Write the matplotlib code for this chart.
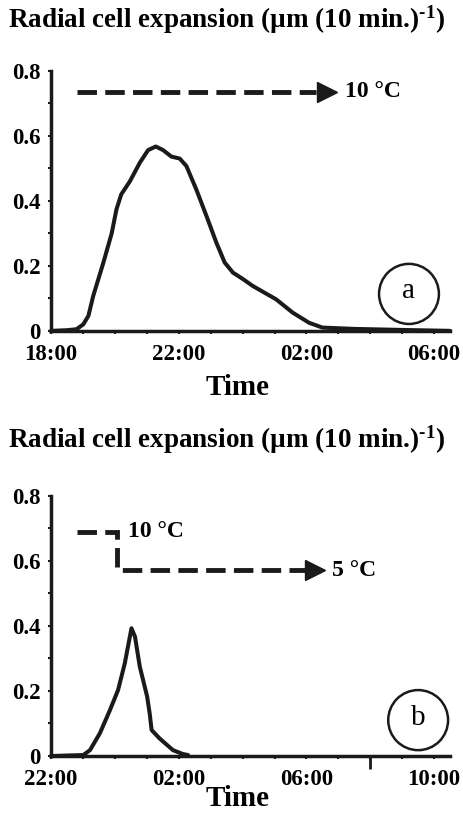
import matplotlib
matplotlib.use("Agg")
import matplotlib.pyplot as plt
from matplotlib.patches import Ellipse

plt.rcParams['font.family'] = ['Liberation Serif', 'DejaVu Serif']
plt.rcParams['font.weight'] = 'bold'
plt.rcParams['mathtext.fontset'] = 'custom'
plt.rcParams['mathtext.rm'] = 'Liberation Serif:bold'
plt.rcParams['mathtext.it'] = 'Liberation Serif:bold'
plt.rcParams['mathtext.bf'] = 'Liberation Serif:bold'
plt.rcParams['lines.scale_dashes'] = False

# panel a: hours after 18:00
horas_a = [0, 0.5, 0.8, 1.01, 1.17, 1.32, 1.64, 1.9, 2.05, 2.2, 2.47, 2.78,
           3.04, 3.28, 3.51, 3.77, 4.03, 4.24, 4.55, 4.87, 5.18, 5.44, 5.7,
           6.0, 6.32, 7.05, 7.57, 8.08, 8.5, 9.5, 10.9, 12.5]
valores_a = [0, 0.002, 0.005, 0.02, 0.046, 0.107, 0.21, 0.30, 0.374, 0.42,
             0.46, 0.517, 0.556, 0.567, 0.556, 0.536, 0.53, 0.507, 0.435,
             0.353, 0.271, 0.21, 0.179, 0.16, 0.138, 0.097, 0.056, 0.025,
             0.01, 0.006, 0.003, 0]
etiquetas_a = ['18:00', '22:00', '02:00', '06:00']

# panel b: hours after 22:00
horas_b = [0, 1.01, 1.22, 1.53, 1.84, 2.1, 2.31, 2.45, 2.52, 2.63, 2.78, 3.01,
           3.09, 3.15, 3.4, 3.82, 4.13, 4.29]
valores_b = [0, 0.003, 0.018, 0.07, 0.14, 0.203, 0.285, 0.357, 0.393, 0.367,
             0.275, 0.183, 0.131, 0.08, 0.054, 0.018, 0.006, 0.003]
etiquetas_b = ['22:00', '02:00', '06:00', '10:00']
marca_suelta_b = [10]

# temperature annotations (hours, value)
flecha_a_x = [0.8, 8.3]
flecha_a_y = [0.735, 0.735]
flecha_b_x = [0.8, 2.06, 2.06, 7.95]
flecha_b_y = [0.69, 0.69, 0.572, 0.572]

titulo = r'Radial cell expansion (µm (10 min.)$^{\text{-1}}$)'

fig = plt.figure(figsize=(4.64, 8.23), dpi=100)


def panel(rect, horas, valores, etiquetas, letra, circ_xy):
    ax = fig.add_axes(rect)
    ax.plot(horas, valores, color='#1a1a1a', lw=2.9, solid_joinstyle='round',
            solid_capstyle='round', clip_on=False, zorder=3)
    ax.set_xlim(0, 12.5)
    ax.set_ylim(0, 0.8)
    for s in ['top', 'right']:
        ax.spines[s].set_visible(False)
    for s in ['left', 'bottom']:
        ax.spines[s].set_linewidth(2.5)
        ax.spines[s].set_color('#1a1a1a')
    ax.set_xticks([0, 4, 8, 12])
    ax.set_xticklabels(etiquetas, fontsize=16.5, fontweight='bold')
    ax.set_xticks(range(0, 13), minor=True)
    ax.set_yticks([0, 0.2, 0.4, 0.6, 0.8])
    ax.set_yticklabels(['0', '0.2', '0.4', '0.6', '0.8'], fontsize=16.5,
                       fontweight='bold')
    ax.set_yticks([0.1, 0.3, 0.5, 0.7], minor=True)
    ax.tick_params(axis='both', which='both', length=2.5, width=1.5,
                   color='#1a1a1a')
    ax.tick_params(axis='y', pad=5)
    ax.tick_params(axis='x', pad=7)
    ax.add_patch(Ellipse(circ_xy, 0.15, 0.231, transform=ax.transAxes,
                         fill=False, lw=1.8, color='#1a1a1a', clip_on=False))
    ax.text(circ_xy[0], circ_xy[1] + 0.01, letra, transform=ax.transAxes,
            ha='center', va='center', fontsize=21, fontweight='normal')
    return ax


def flecha(ax, xs, ys):
    ax.plot(xs, ys, color='#1a1a1a', lw=3.5, dashes=(14, 6),
            solid_joinstyle='miter', dash_joinstyle='miter', clip_on=False)
    ax.plot(xs[-1] + 0.33, ys[-1], marker='>', ms=14, color='#1a1a1a',
            clip_on=False)


ax_a = panel([0.110, 0.598, 0.86, 0.316], horas_a, valores_a, etiquetas_a,
             'a', (0.897, 0.142))
flecha(ax_a, flecha_a_x, flecha_a_y)
ax_a.text(9.2, 0.735, '10 °C', fontsize=17, ha='left', va='center')

ax_b = panel([0.110, 0.0814, 0.86, 0.316], horas_b, valores_b, etiquetas_b,
             'b', (0.92, 0.138))
ax_b.vlines(marca_suelta_b, -0.04, 0, color='#1a1a1a', lw=2, clip_on=False)
flecha(ax_b, flecha_b_x, flecha_b_y)
ax_b.text(2.4, 0.69, '10 °C', fontsize=17, ha='left', va='center')
ax_b.text(8.8, 0.572, '5 °C', fontsize=17, ha='left', va='center')

fig.text(8 / 464, 1 - 28 / 823, titulo, fontsize=19.5, ha='left',
         va='baseline')
fig.text(8 / 464, 1 - 448 / 823, titulo, fontsize=19.5, ha='left',
         va='baseline')
fig.text(238 / 464, 1 - 395 / 823, 'Time', fontsize=21, ha='center',
         va='baseline')
fig.text(238 / 464, 1 - 806 / 823, 'Time', fontsize=21, ha='center',
         va='baseline')

fig.savefig('out.png', dpi=100)
